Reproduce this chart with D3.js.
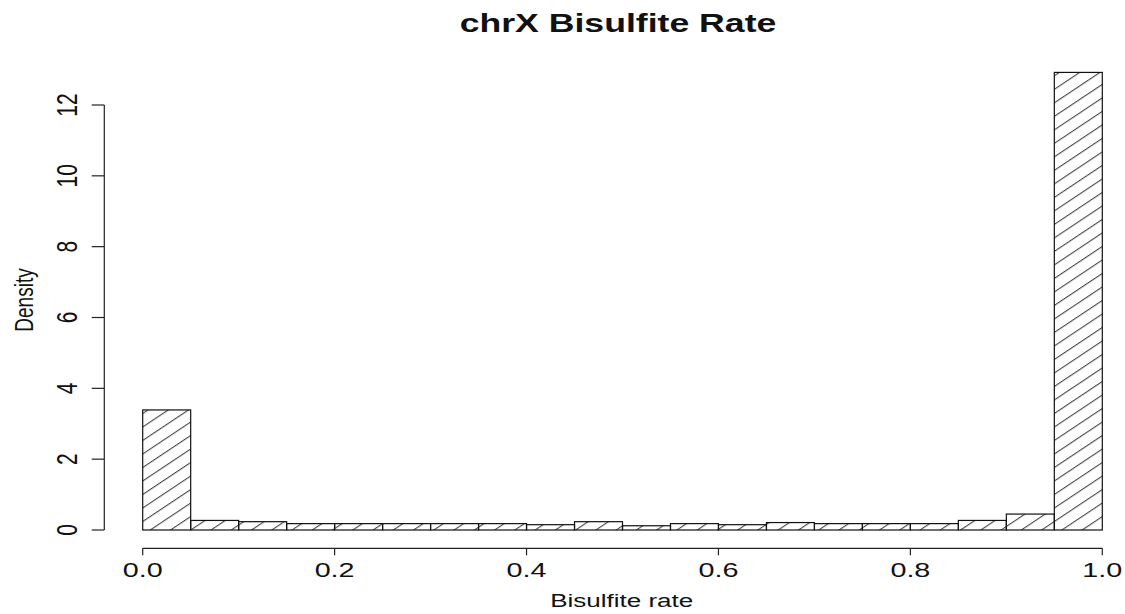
<!DOCTYPE html>
<html>
<head>
<meta charset="utf-8">
<script src="https://cdn.jsdelivr.net/npm/d3@7"></script>
<style>
  html, body { margin: 0; padding: 0; background: #fff; }
  svg { display: block; font-family: "Liberation Sans", Arial, sans-serif; }
</style>
</head>
<body>
<svg id="chart" width="1125" height="614"></svg>
<script>
// ---- data ----
const binStarts = [0.00,0.05,0.10,0.15,0.20,0.25,0.30,0.35,0.40,0.45,
                   0.50,0.55,0.60,0.65,0.70,0.75,0.80,0.85,0.90,0.95];
const binWidth = 0.05;
const density = [3.39,0.27,0.235,0.18,0.18,0.18,0.18,0.18,0.15,0.235,
                 0.12,0.18,0.15,0.21,0.18,0.18,0.18,0.27,0.45,12.92];
const xTicks = [0.0,0.2,0.4,0.6,0.8,1.0];
const yTicks = [0,2,4,6,8,10,12];
const titleText = "chrX Bisulfite Rate";
const xLabel = "Bisulfite rate";
const yLabel = "Density";

// ---- layout ----
const SX = 1.37; // horizontal text stretch
const svg = d3.select("#chart");
const x = d3.scaleLinear().domain([0, 1]).range([142.7, 1102.3]);
const y = d3.scaleLinear().domain([0, 12]).range([530, 105]);

// hatch pattern
const defs = svg.append("defs");
const pat = defs.append("pattern")
  .attr("id", "hatch")
  .attr("patternUnits", "userSpaceOnUse")
  .attr("width", 20).attr("height", 9.55)
  .attr("patternTransform", `translate(0,2) scale(1.5,1) rotate(-45)`);
pat.append("line")
  .attr("x1", -5).attr("x2", 25).attr("y1", 4.8).attr("y2", 4.8)
  .attr("stroke", "#444").attr("stroke-width", 0.9);

// bars
const bins = binStarts.map((s, i) => ({x0: s, x1: s + binWidth, d: density[i]}));
svg.append("g").selectAll("rect").data(bins).join("rect")
  .attr("x", d => x(d.x0))
  .attr("y", d => y(d.d))
  .attr("width", d => x(d.x1) - x(d.x0))
  .attr("height", d => y(0) - y(d.d))
  .attr("fill", "url(#hatch)")
  .attr("stroke", "#111")
  .attr("stroke-width", 1.2);

// x axis
const xAxis = svg.append("g").attr("transform", "translate(0,548.3)");
xAxis.append("line").attr("x1", x(0)).attr("x2", x(1)).attr("y1", 0).attr("y2", 0)
  .attr("stroke", "#222").attr("stroke-width", 1.2);
xAxis.selectAll("line.tick").data(xTicks).join("line").attr("class", "tick")
  .attr("x1", d => x(d)).attr("x2", d => x(d)).attr("y1", 0).attr("y2", 7)
  .attr("stroke", "#222").attr("stroke-width", 1.2);
xAxis.selectAll("text").data(xTicks).join("text")
  .attr("transform", d => `translate(${x(d)},28.8) scale(${SX},1)`)
  .attr("text-anchor", "middle")
  .attr("font-size", 21)
  .attr("fill", "#111")
  .text(d => d3.format(".1f")(d));

// y axis
const yAxis = svg.append("g").attr("transform", "translate(104.3,0)");
yAxis.append("line").attr("x1", 0).attr("x2", 0).attr("y1", y(0)).attr("y2", y(12))
  .attr("stroke", "#222").attr("stroke-width", 1.2);
yAxis.selectAll("line.tick").data(yTicks).join("line").attr("class", "tick")
  .attr("x1", -12.6).attr("x2", 0).attr("y1", d => y(d)).attr("y2", d => y(d))
  .attr("stroke", "#222").attr("stroke-width", 1.2);
yAxis.selectAll("text").data(yTicks).join("text")
  .attr("transform", d => `translate(-27.5,${y(d)}) scale(${SX},1) rotate(-90)`)
  .attr("text-anchor", "middle")
  .attr("font-size", 21)
  .attr("fill", "#111")
  .text(d => d);

// titles
svg.append("text")
  .attr("transform", `translate(618,31.7) scale(${SX},1)`)
  .attr("text-anchor", "middle")
  .attr("font-size", 26)
  .attr("font-weight", "bold")
  .attr("fill", "#111")
  .text(titleText);

svg.append("text")
  .attr("transform", `translate(621.7,606.7) scale(${SX},1)`)
  .attr("text-anchor", "middle")
  .attr("font-size", 19)
  .attr("fill", "#111")
  .text(xLabel);

svg.append("text")
  .attr("transform", `translate(33,300) scale(${SX},1) rotate(-90)`)
  .attr("text-anchor", "middle")
  .attr("font-size", 19)
  .attr("fill", "#111")
  .text(yLabel);
</script>
</body>
</html>
